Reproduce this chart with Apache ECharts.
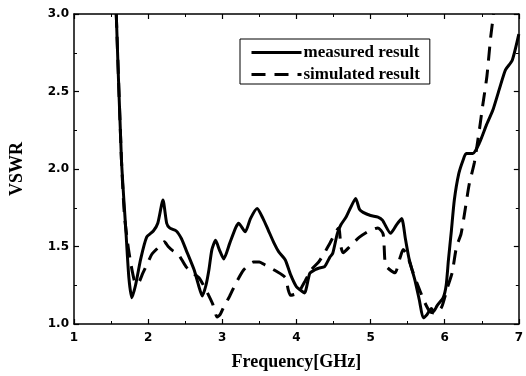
<!DOCTYPE html>
<html>
<head>
<meta charset="utf-8">
<script src="https://cdn.jsdelivr.net/npm/echarts@6/dist/echarts.min.js"></script>
<style>
html,body{margin:0;padding:0;background:#fff;}
#chart{width:526px;height:376px;}
</style>
</head>
<body>
<div id="chart"></div>
<script>
// Frequency (GHz) / VSWR
var measuredFreq = [1.57,1.64,1.70,1.74,1.78,1.83,1.90,1.98,2.07,2.13,2.20,2.25,2.29,2.38,2.45,2.51,2.62,2.68,2.73,2.78,2.82,2.86,2.91,2.96,3.02,3.10,3.18,3.22,3.31,3.38,3.47,3.55,3.62,3.70,3.76,3.85,3.92,4.00,4.05,4.11,4.18,4.25,4.30,4.38,4.45,4.49,4.55,4.60,4.67,4.72,4.80,4.85,4.90,5.00,5.10,5.16,5.27,5.35,5.42,5.47,5.52,5.60,5.66,5.71,5.76,5.82,5.85,5.90,5.98,6.02,6.05,6.09,6.13,6.19,6.25,6.29,6.38,6.47,6.56,6.65,6.74,6.82,6.91,7.00];
var measuredVSWR = [3.00,2.06,1.60,1.30,1.17,1.25,1.42,1.56,1.60,1.65,1.80,1.65,1.62,1.60,1.55,1.48,1.35,1.25,1.18,1.25,1.35,1.48,1.54,1.48,1.42,1.52,1.62,1.65,1.595,1.68,1.745,1.68,1.606,1.52,1.467,1.413,1.32,1.24,1.22,1.20,1.327,1.35,1.36,1.37,1.43,1.456,1.58,1.64,1.69,1.74,1.81,1.74,1.72,1.70,1.69,1.67,1.585,1.64,1.68,1.55,1.42,1.28,1.15,1.04,1.06,1.10,1.08,1.12,1.17,1.25,1.41,1.60,1.80,1.97,2.06,2.10,2.10,2.17,2.28,2.38,2.52,2.64,2.70,2.87];
var simulatedFreq = [1.57,1.64,1.68,1.73,1.77,1.82,1.86,1.93,2.00,2.05,2.13,2.22,2.27,2.34,2.40,2.51,2.60,2.69,2.78,2.87,2.93,2.97,3.02,3.10,3.18,3.29,3.42,3.50,3.58,3.73,3.85,3.89,3.92,4.00,4.05,4.12,4.20,4.30,4.38,4.45,4.57,4.60,4.63,4.72,4.85,4.98,5.10,5.17,5.20,5.26,5.33,5.40,5.44,5.49,5.56,5.62,5.67,5.73,5.80,5.88,5.96,6.04,6.10,6.16,6.22,6.27,6.33,6.40,6.47,6.51,6.57,6.62,6.66];
var simulatedVSWR = [3.00,2.06,1.70,1.50,1.38,1.27,1.26,1.33,1.40,1.45,1.49,1.53,1.50,1.47,1.456,1.37,1.33,1.295,1.22,1.13,1.045,1.06,1.11,1.18,1.26,1.35,1.40,1.40,1.38,1.34,1.30,1.22,1.185,1.195,1.22,1.28,1.35,1.40,1.46,1.52,1.62,1.50,1.46,1.50,1.56,1.60,1.62,1.58,1.38,1.35,1.33,1.43,1.48,1.45,1.35,1.27,1.21,1.14,1.08,1.07,1.11,1.24,1.33,1.50,1.58,1.72,1.90,2.04,2.26,2.40,2.60,2.85,3.00];
var seriesNames = ['measured result','simulated result'];
var xTicks = {min:1, max:7, interval:1};
var yTicks = {min:1.0, max:3.0, interval:0.5};

function pairs(xs, ys){ return xs.map(function(x,i){ return [x, ys[i]]; }); }

var chart = echarts.init(document.getElementById('chart'), null, {renderer:'canvas'});
var axisCommon = {
  axisLine:{show:true, onZero:false, lineStyle:{color:'#000', width:1.5}},
  axisTick:{show:true, inside:true, length:5, lineStyle:{color:'#000', width:1.2}},
  minorTick:{show:true, splitNumber:2, length:3, lineStyle:{color:'#000', width:1}},
  splitLine:{show:false}
};
var labelStyle = {color:'#000', fontFamily:'DejaVu Sans', fontWeight:'bold', fontSize:12};
var nameStyle = {color:'#000', fontFamily:'Liberation Serif', fontWeight:'bold', fontSize:18};

chart.setOption({
  animation:false,
  backgroundColor:'#fff',
  grid:{left:73, right:4, top:14, bottom:52},
  legend:{
    orient:'vertical', left:240, top:39,
    padding:[5,10,1,10], itemGap:5, itemWidth:50, itemHeight:14,
    borderColor:'#000', borderWidth:1, borderRadius:0,
    data:seriesNames,
    itemStyle:{opacity:0},
    lineStyle:{width:3},
    textStyle:{color:'#000', fontFamily:'Liberation Serif', fontWeight:'bold', fontSize:17, lineHeight:17, padding:[0,0,0,-3]}
  },
  xAxis:[
    Object.assign({type:'value', position:'bottom', min:xTicks.min, max:xTicks.max, interval:xTicks.interval,
      name:'Frequency[GHz]', nameLocation:'middle', nameGap:29, nameTextStyle:nameStyle,
      axisLabel:Object.assign({margin:8, formatter:function(v){return String(v);}}, labelStyle)}, axisCommon),
    Object.assign({type:'value', position:'top', min:xTicks.min, max:xTicks.max, interval:xTicks.interval,
      axisLabel:{show:false}}, axisCommon)
  ],
  yAxis:[
    Object.assign({type:'value', position:'left', min:yTicks.min, max:yTicks.max, interval:yTicks.interval,
      name:'VSWR', nameLocation:'middle', nameGap:48, nameTextStyle:nameStyle,
      axisLabel:Object.assign({margin:5, formatter:function(v){return v.toFixed(1);}}, labelStyle)}, axisCommon),
    Object.assign({type:'value', position:'right', min:yTicks.min, max:yTicks.max, interval:yTicks.interval,
      axisLabel:{show:false}}, axisCommon)
  ],
  series:[
    {name:seriesNames[0], type:'line', xAxisIndex:0, yAxisIndex:0, showSymbol:false, symbol:'none', smooth:0.2,
      lineStyle:{color:'#000', width:3}, itemStyle:{color:'#000'},
      data:pairs(measuredFreq, measuredVSWR)},
    {name:seriesNames[1], type:'line', xAxisIndex:0, yAxisIndex:0, showSymbol:false, symbol:'none', smooth:0.2,
      lineStyle:{color:'#000', width:3, type:[14,9]}, itemStyle:{color:'#000'},
      data:pairs(simulatedFreq, simulatedVSWR)}
  ]
});
</script>
</body>
</html>
